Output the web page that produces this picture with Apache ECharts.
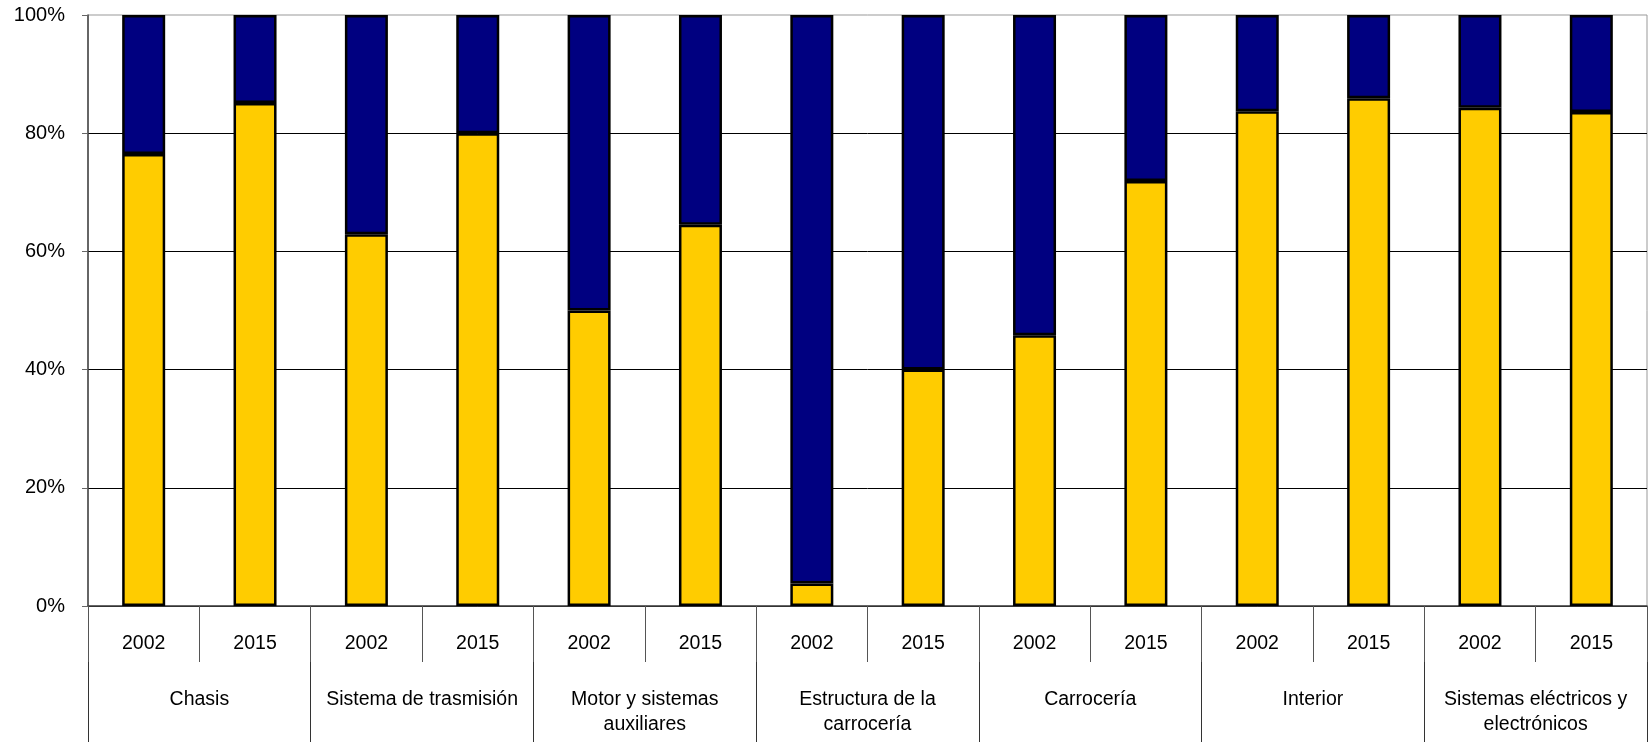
<!DOCTYPE html>
<html>
<head>
<meta charset="utf-8">
<script src="https://cdn.jsdelivr.net/npm/echarts@6/dist/echarts.min.js"></script>
<style>
  html, body { margin: 0; padding: 0; background: #fff; }
  #chart { width: 1652px; height: 742px; }
</style>
</head>
<body>
<div id="chart"></div>
<script>
const groups = [
  'Chasis',
  'Sistema de trasmisión',
  'Motor y sistemas\nauxiliares',
  'Estructura de la\ncarrocería',
  'Carrocería',
  'Interior',
  'Sistemas eléctricos y\nelectrónicos'
]
const years = ['2002', '2015']

// yellow share per bar, 2002 then 2015 within each group (%)
const yellowShare = [76.5, 85.1, 62.9, 80.0, 50.0, 64.5, 3.8, 40.0, 45.8, 71.9, 83.7, 85.9, 84.3, 83.6]
const navyShare = yellowShare.map(v => +(100 - v).toFixed(1))

const yTicks = [0, 20, 40, 60, 80, 100]

const yearLabels = groups.flatMap(() => years)

const chart = echarts.init(document.getElementById('chart'))
const font = 'Liberation Sans, Arial, sans-serif'

chart.setOption({
  animation: false,
  backgroundColor: '#fff',
  textStyle: { fontFamily: font },
  grid: {
    left: 88, right: 5, top: 15, bottom: 136,
    show: true, borderColor: '#999', borderWidth: 1
  },
  yAxis: {
    type: 'value',
    min: yTicks[0], max: yTicks[yTicks.length - 1], interval: 20,
    axisLine: { show: true, lineStyle: { color: '#444', width: 1.5 } },
    axisTick: { show: true, length: 6, lineStyle: { color: '#666' } },
    axisLabel: { formatter: '{value}%', color: '#000', fontSize: 20, margin: 23, fontFamily: font },
    splitLine: { show: true, showMaxLine: false, lineStyle: { color: '#000', width: 1 } }
  },
  xAxis: [
    {
      type: 'category',
      data: yearLabels,
      position: 'bottom',
      axisLine: { show: true, lineStyle: { color: '#444', width: 1.5 } },
      axisTick: { show: true, interval: 0, length: 56, lineStyle: { color: '#555' } },
      axisLabel: { interval: 0, color: '#000', fontSize: 19.5, margin: 28, fontFamily: font },
      splitLine: { show: false }
    },
    {
      type: 'category',
      data: groups,
      position: 'bottom',
      offset: 56,
      axisLine: { show: false },
      axisTick: { show: true, interval: 0, length: 80, lineStyle: { color: '#333' } },
      axisLabel: { interval: 0, color: '#000', fontSize: 19.5, lineHeight: 25, margin: 25, fontFamily: font },
      splitLine: { show: false }
    }
  ],
  series: [
    {
      name: 'yellow',
      type: 'bar',
      stack: 'total',
      xAxisIndex: 0,
      barWidth: 43,
      data: yellowShare,
      itemStyle: { color: '#FFCC00', borderColor: '#000', borderWidth: 2.5 }
    },
    {
      name: 'navy',
      type: 'bar',
      stack: 'total',
      xAxisIndex: 0,
      barWidth: 43,
      data: navyShare,
      itemStyle: { color: '#000080', borderColor: '#000', borderWidth: 2.5 }
    }
  ]
})
</script>
</body>
</html>
